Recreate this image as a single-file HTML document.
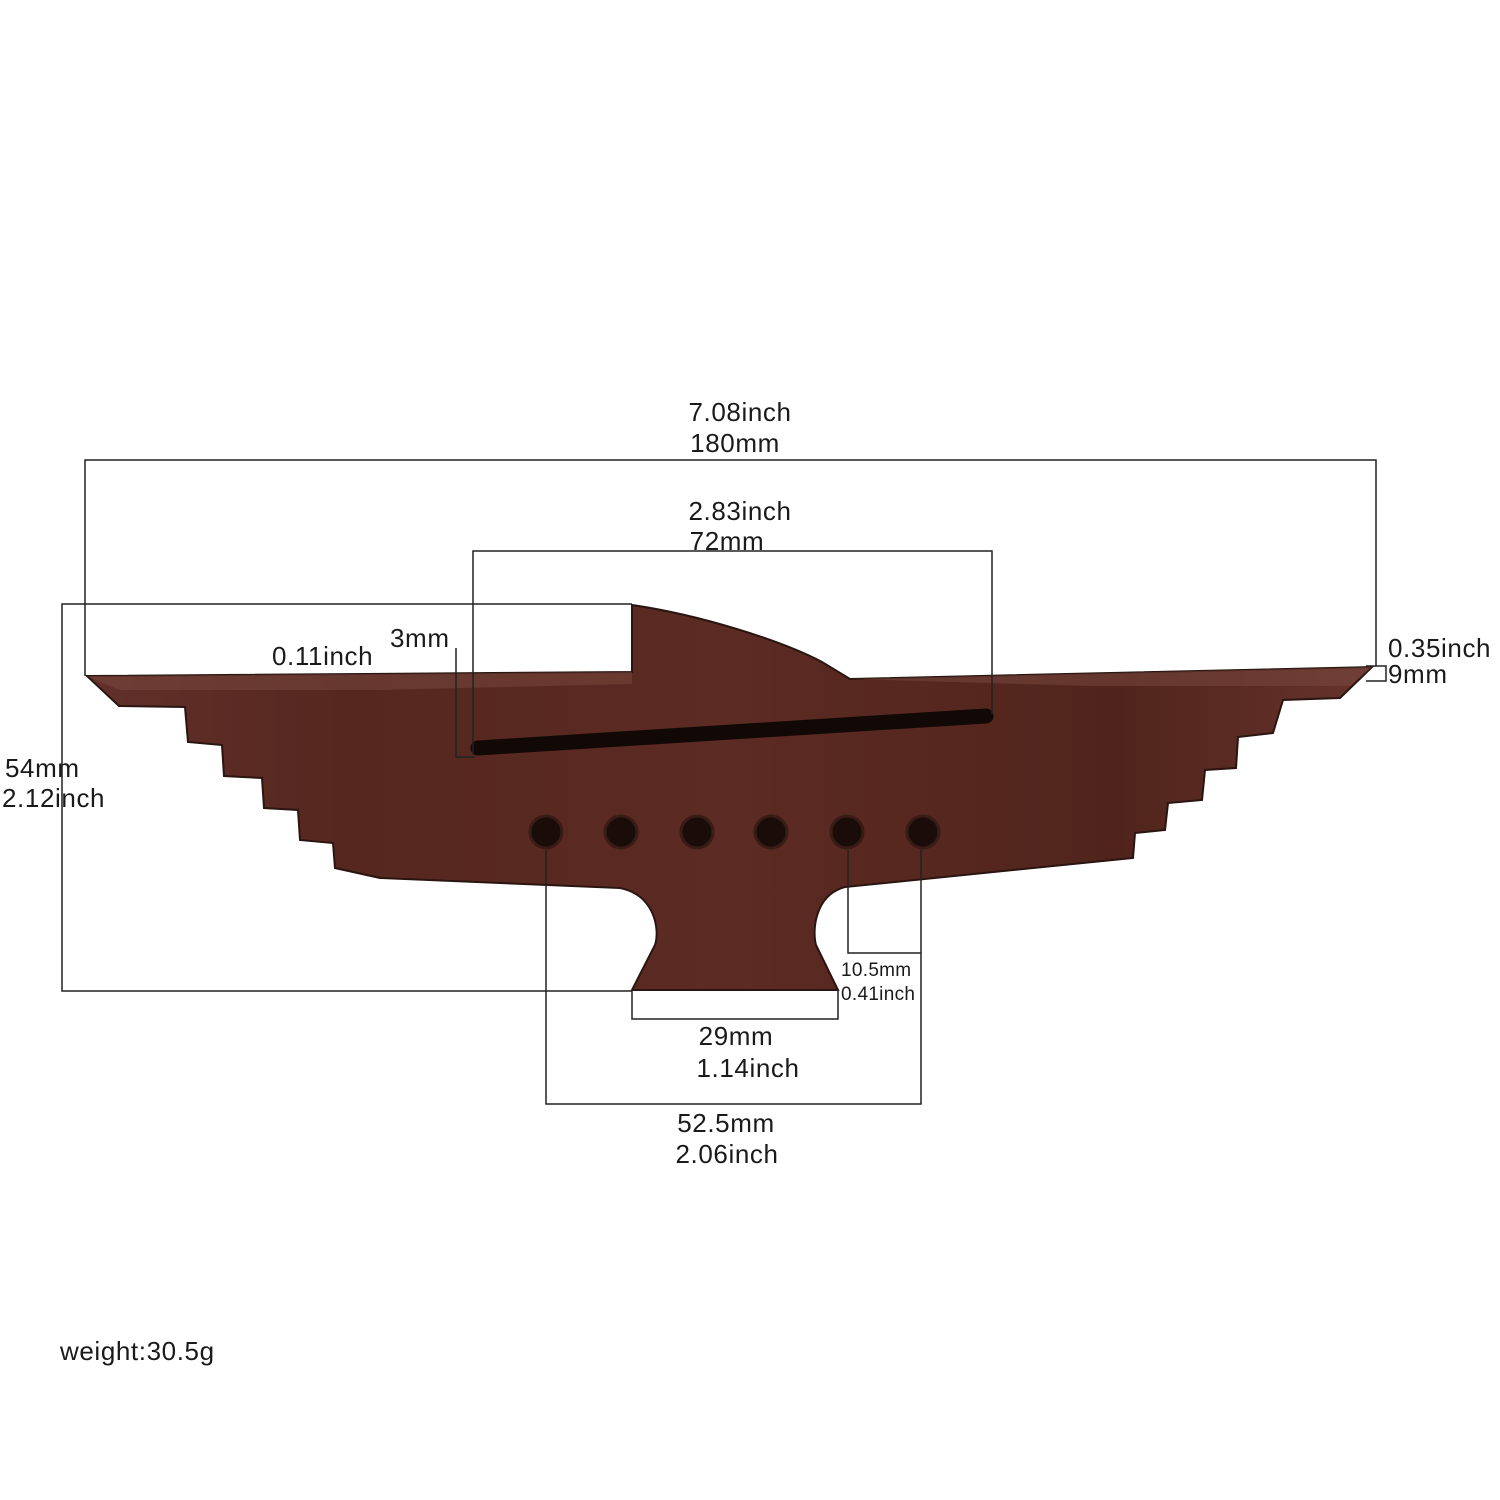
<!DOCTYPE html>
<html><head><meta charset="utf-8"><style>
html,body{margin:0;padding:0;background:#fff;}
svg{display:block;}
text{font-family:"Liberation Sans",sans-serif;fill:#1a1a1a;}
</style></head><body>
<svg width="1500" height="1500" viewBox="0 0 1500 1500" xmlns="http://www.w3.org/2000/svg">
<defs>
<linearGradient id="w" x1="0" y1="0" x2="1" y2="0">
<stop offset="0" stop-color="#62302a"/>
<stop offset="0.2" stop-color="#55271f"/>
<stop offset="0.5" stop-color="#5c2b23"/>
<stop offset="0.8" stop-color="#50241c"/>
<stop offset="1" stop-color="#66332b"/>
</linearGradient>
</defs>
<path d="M87,676 L632,672 L632,605 C700,615 780,640 822,662 L850,679 L1372,667 L1340,698 L1283,700 L1273,733 L1238,737 L1236,768 L1205,770 L1202,800 L1168,803 L1165,830 L1135,833 L1133,858 L845,887 C815,895 812,930 816,945 L838,990 L632,990 L655,945 C660,930 655,895 620,888 L380,878 L335,868 L333,843 L300,840 L298,810 L264,808 L262,778 L224,776 L222,745 L188,742 L185,707 L119,706 Z" fill="url(#w)" stroke="#2a1510" stroke-width="2"/>
<path d="M87,676 L632,672 L632,684 L380,690 L119,690 Z" fill="#7a4a40" opacity="0.5"/>
<path d="M850,679 L1372,667 L1350,686 L1090,686 Z" fill="#7a4a40" opacity="0.5"/>
<line x1="478" y1="748" x2="986" y2="716" stroke="#120806" stroke-width="15" stroke-linecap="round"/>
<g fill="#1a0c09" stroke="#3a1c16" stroke-width="3">
<circle cx="546" cy="832" r="16"/><circle cx="621" cy="832" r="16"/><circle cx="697" cy="832" r="16"/>
<circle cx="771" cy="832" r="16"/><circle cx="847" cy="832" r="16"/><circle cx="923" cy="832" r="16"/>
</g>
<g fill="none" stroke="#222" stroke-width="1.5">
<polyline points="85,676 85,460 1376,460 1376,666"/>
<polyline points="473,755 473,551 992,551 992,714"/>
<polyline points="632,604 62,604 62,991 632,991"/>
<polyline points="456,648 456,757 475,757"/>
<polyline points="1366,666 1386,666 1386,681 1366,681"/>
<polyline points="632,990 632,1019 838,1019 838,990"/>
<polyline points="546,850 546,1104 921,1104 921,850"/>
<polyline points="848,850 848,953 921,953"/>
</g>
<g font-size="26" letter-spacing="0.6">
<text x="740" y="421" text-anchor="middle">7.08inch</text>
<text x="735" y="452" text-anchor="middle">180mm</text>
<text x="740" y="520" text-anchor="middle">2.83inch</text>
<text x="727" y="550" text-anchor="middle">72mm</text>
<text x="272" y="665">0.11inch</text>
<text x="390" y="647">3mm</text>
<text x="1388" y="657">0.35inch</text>
<text x="1388" y="683">9mm</text>
<text x="5" y="777">54mm</text>
<text x="2" y="807">2.12inch</text>
<text x="736" y="1045" text-anchor="middle">29mm</text>
<text x="748" y="1077" text-anchor="middle">1.14inch</text>
<text x="726" y="1132" text-anchor="middle">52.5mm</text>
<text x="727" y="1163" text-anchor="middle">2.06inch</text>
<text x="60" y="1360">weight:30.5g</text>
</g>
<g font-size="19" letter-spacing="0.3">
<text x="841" y="976">10.5mm</text>
<text x="841" y="1000">0.41inch</text>
</g>
</svg>
</body></html>
